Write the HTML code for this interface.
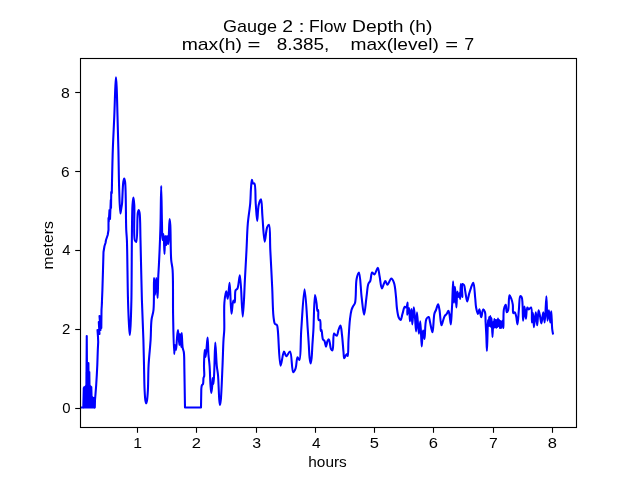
<!DOCTYPE html>
<html><head><meta charset="utf-8"><style>
html,body{margin:0;padding:0;background:#fff;width:640px;height:480px;overflow:hidden}
svg{display:block;position:absolute;left:0;top:0;will-change:transform}
text{font-family:"Liberation Sans",sans-serif;fill:#000}
</style></head><body>
<svg width="640" height="480" viewBox="0 0 640 480">
<path d="M83.3 408.4 L83.3 386.5 L91.8 386.5 L91.8 397 L95 397 L95 408.4 Z M85.9 387 L85.9 372 L89.7 372 L89.7 387 Z" fill="#0000ff"/>
<path d="M81 407.5 L83.3 407.5 L83.8 388 L84.3 407 L84.8 387 L85.3 406 L85.8 386 L86.3 405 L86.75 336 L87.2 400 L87.7 370 L88.2 395 L88.4 363 L88.9 400 L89.3 372 L89.8 405 L90.3 386 L90.8 405 L91.3 387 L91.8 406 L92.3 397 L92.8 407 L93.3 398 L93.8 407 L94.3 399 L94.8 407.5 L95 400 L95.5 394 L96.2 385 L96.8 375 L97.3 365 L97.8 350 L98.2 342 L98 337 L97.5 330 L99.5 334 L98.8 322 L100.5 330 L99.5 316 L101.3 328 L101.5 310 L102 302 L101.8 305 L102.4 290 L103 270 L103.5 252 L104 249 L104.5 246 L105.5 243 L106 240 L107.7 235 L108.5 230 L108.5 218 L108.75 221.7 L109.5 210 L110 219 L110.8 200 L111 208 L111.25 192 L111.8 193 C111.80 193.00 112.35 163.49 112.8 150 C113.20 138.00 113.87 126.78 114.3 116 C114.69 106.21 114.94 95.15 115.3 88 C115.52 83.56 115.77 77.20 116 77.2 C116.23 77.20 116.49 83.56 116.7 88 C117.03 95.15 117.23 106.21 117.5 116 C117.80 126.78 118.13 138.21 118.4 150 C118.70 162.79 118.79 178.43 119.2 190 C119.52 198.87 119.81 213.47 120.4 213.5 C120.71 213.52 121.21 208.75 121.5 207 C121.70 205.81 121.83 205.47 122 204 C122.44 200.05 122.65 186.16 123.3 182 C123.56 180.31 123.90 178.50 124.2 178.5 C124.50 178.50 124.84 180.14 125.1 182 C126.04 188.78 125.80 219.97 126.25 230 C126.45 234.58 126.70 235.26 126.9 240 C127.38 251.59 127.54 284.31 128 300 C128.30 310.13 128.61 318.55 129 325 C129.25 329.09 129.53 335.00 129.8 335 C130.07 335.00 130.37 329.09 130.6 325 C130.96 318.55 131.16 311.02 131.4 300 C131.87 278.53 131.59 218.88 132.5 205 C132.76 201.09 133.10 197.50 133.4 197.5 C133.70 197.50 134.07 201.57 134.3 205 C134.79 212.38 133.33 235.57 134.8 240 C135.19 241.18 135.84 242.12 136.25 242 C137.65 241.59 136.98 217.68 137.8 213 C138.07 211.46 138.40 210.00 138.7 210 C139.00 210.00 139.35 211.48 139.6 213 C140.33 217.48 140.19 229.23 140.5 240 C140.95 256.06 141.35 282.02 141.9 300 C142.35 314.68 143.04 328.23 143.4 340 C143.69 349.31 143.80 356.67 144 365 C144.20 373.33 144.27 383.45 144.6 390 C144.81 394.25 144.98 398.13 145.4 400.5 C145.62 401.75 145.93 403.30 146.2 403.3 C146.47 403.30 146.77 401.75 147 400.5 C147.44 398.13 147.66 394.25 147.9 390 C148.27 383.45 148.15 373.33 148.6 365 C149.05 356.66 150.11 347.87 150.6 340 C151.04 332.97 150.83 325.50 151.5 320 C151.98 316.07 153.04 314.30 153.5 310 C154.32 302.38 153.67 278.01 154 278 C154.24 277.99 154.62 295.00 155 295 C155.38 295.00 155.88 278.00 156.3 278 C156.75 278.00 157.28 298.01 157.6 298 C157.92 297.99 157.95 283.95 158.2 278 C158.40 273.20 158.67 269.49 158.9 265 C159.14 260.18 159.37 255.64 159.6 250 C159.90 242.73 160.25 234.26 160.5 225 C160.81 213.44 160.95 186.00 161.2 186 C161.45 186.00 161.73 215.05 162 225 C162.17 231.17 162.12 239.97 162.5 240 C162.74 240.02 163.22 233.98 163.5 234 C164.01 234.03 164.21 254.00 164.5 254 C164.77 254.00 164.80 236.02 165.2 236 C165.48 235.99 166.00 245.01 166.3 245 C166.60 244.99 166.67 236.01 167 236 C167.31 235.99 167.90 244.01 168.2 244 C168.50 243.99 168.61 239.16 168.8 236 C169.08 231.39 169.26 219.01 169.6 219 C169.81 218.99 170.10 222.16 170.3 225 C170.78 231.83 170.53 251.89 171.2 260 C171.56 264.36 172.26 265.45 172.6 270 C173.32 279.60 172.82 300.54 173.1 315 C173.36 328.47 173.71 353.99 174.2 354 C174.44 354.01 174.63 345.02 175 345 C175.28 344.98 175.71 350.02 176 350 C176.44 349.97 176.63 341.59 177 338 C177.31 335.06 177.66 329.99 178 330 C178.46 330.01 179.06 345.01 179.4 345 C179.69 344.99 179.71 334.01 180 334 C180.32 333.99 181.02 347.01 181.3 347 C181.59 346.99 181.47 333.00 181.7 333 C181.93 333.00 182.13 344.61 182.7 348 C183.00 349.78 183.53 350.26 183.8 352 C184.28 355.07 184.30 365.00 184.3 365 L185 407.5 L201 407.5 L201.3 389 C201.30 389.00 201.56 385.85 202 385 C202.26 384.50 202.75 384.54 203 384 C203.52 382.88 203.19 379.45 203.5 378 C203.68 377.14 204.05 376.94 204.2 376 C204.53 373.96 203.96 369.72 204 366 C204.06 361.29 204.37 350.01 204.7 350 C204.92 349.99 205.21 357.00 205.5 357 C205.81 357.00 206.18 351.91 206.5 349 C206.88 345.52 207.29 337.49 207.6 337.5 C207.98 337.51 208.11 349.84 208.5 355 C208.81 359.09 209.29 361.83 209.6 366 C210.00 371.47 210.13 380.02 210.5 385 C210.74 388.24 211.00 393.00 211.3 393 C211.60 393.00 212.05 387.58 212.3 385 C212.54 382.59 212.59 378.00 212.8 378 C213.00 378.00 213.29 384.01 213.5 384 C213.82 383.99 214.05 375.45 214.3 370 C214.66 362.37 214.86 342.51 215.3 342.5 C215.71 342.49 216.21 360.02 216.8 366 C217.17 369.71 217.65 371.24 218 375 C218.58 381.24 218.81 394.86 219.3 400 C219.52 402.31 219.75 405.00 220 405 C220.25 405.00 220.55 402.42 220.8 400 C221.46 393.73 222.03 376.58 222.5 366 C222.91 356.75 223.12 346.63 223.5 340 C223.73 335.88 224.08 334.16 224.25 330 C224.53 323.11 223.80 309.63 224.4 302.5 C224.79 297.91 225.64 291.26 226.25 291.25 C226.75 291.24 227.28 298.77 227.75 298.75 C228.43 298.72 229.05 282.79 229.6 282.8 C230.36 282.82 230.66 313.72 231.5 313.75 C232.05 313.77 232.48 300.81 233.4 300.6 C233.78 300.51 234.36 302.59 234.7 302.5 C235.49 302.29 234.58 292.52 235.6 290.3 C236.08 289.26 236.95 289.44 237.5 288.4 C238.72 286.07 239.19 275.26 239.9 275.3 C241.14 275.37 241.89 316.60 242.75 316.6 C243.58 316.60 244.34 289.84 245 278 C245.56 267.92 246.03 259.18 246.5 250 C246.96 241.11 247.11 231.98 247.8 223.75 C248.41 216.42 249.72 209.37 250.25 203 C250.70 197.60 250.66 192.26 251 188 C251.25 184.82 251.46 179.74 251.9 179.7 C252.20 179.67 252.38 182.94 253 183.4 C253.37 183.68 254.01 183.03 254.4 183.4 C255.87 184.78 255.22 196.61 255.7 203 C256.16 209.13 256.68 221.00 257.2 221 C257.69 221.00 257.74 208.91 258.7 205 C259.29 202.60 260.42 199.31 261 199.4 C261.97 199.55 261.87 209.87 262.4 216 C263.06 223.61 263.76 241.56 264.7 241.6 C265.40 241.63 265.96 230.33 267.1 227.5 C267.65 226.12 268.49 224.56 269 224.7 C270.39 225.09 269.83 240.74 270.3 250 C270.88 261.27 271.64 275.79 272.2 287.5 C272.69 297.81 272.70 310.12 273.5 316.6 C273.91 319.90 274.05 322.73 275 324 C275.51 324.67 276.44 324.37 276.9 325 C277.61 325.97 277.49 327.56 277.8 330 C278.63 336.46 279.15 365.48 280.6 365.6 C281.52 365.67 282.79 351.73 284 351.6 C284.72 351.52 285.30 356.14 286.25 356.25 C287.27 356.37 288.99 351.33 290 351.6 C291.89 352.11 291.69 371.89 293.2 372.2 C293.90 372.35 294.96 370.08 295.6 368.4 C296.63 365.72 296.53 357.41 297.5 357.2 C298.03 357.08 298.87 360.14 299.4 360 C300.97 359.57 300.48 340.75 301.25 330 C302.15 317.48 303.51 289.40 304.6 289.4 C305.69 289.40 307.06 319.77 307.8 330 C308.25 336.22 308.49 340.18 308.8 345 C309.09 349.49 309.19 354.59 309.6 358 C309.87 360.23 310.27 363.50 310.6 363.5 C310.93 363.50 311.33 360.23 311.6 358 C312.01 354.59 312.11 349.49 312.4 345 C312.71 340.18 313.06 336.05 313.4 330 C313.92 320.77 314.13 295.06 315 295 C315.42 294.97 316.08 300.33 316.5 303 C316.92 305.66 316.97 310.87 317.5 311 C317.70 311.05 318.02 309.95 318.2 310 C318.73 310.16 317.66 319.09 318.6 320 C318.95 320.34 319.63 319.66 320 320 C321.04 320.96 320.21 330.84 320.8 331 C321.00 331.05 321.30 329.95 321.5 330 C321.94 330.11 322.01 334.27 322.3 336 C322.52 337.33 322.53 338.63 323 339.5 C323.36 340.17 324.08 340.26 324.5 341 C325.21 342.23 325.50 346.70 326 346.7 C326.50 346.70 326.83 342.27 327.5 341 C327.90 340.24 328.52 339.31 328.9 339.4 C329.46 339.54 329.66 342.43 330 344 C330.36 345.63 330.38 347.93 331 349 C331.39 349.67 332.08 350.47 332.5 350.3 C333.71 349.81 332.83 333.93 334 333.5 C334.42 333.35 334.98 334.62 335.5 335 C335.95 335.32 336.50 335.88 336.9 335.7 C337.68 335.35 337.86 331.77 338.5 330 C339.08 328.39 339.96 325.43 340.5 325.5 C341.25 325.60 341.55 331.37 342 335 C342.59 339.84 343.07 347.71 343.5 352 C343.76 354.61 343.70 358.20 344.2 358.3 C344.52 358.37 345.03 356.73 345.5 356 C345.96 355.29 346.61 353.95 347 354 C347.36 354.05 347.58 356.04 347.8 356 C348.39 355.90 348.17 345.69 348.5 340 C348.88 333.47 349.34 324.53 350 319 C350.43 315.36 350.86 312.26 351.5 310 C351.91 308.57 352.34 307.73 352.9 306.6 C353.50 305.40 354.44 304.83 355 303 C356.34 298.61 355.44 284.42 356.6 279 C357.22 276.09 358.32 272.42 359 272.5 C360.28 272.66 360.68 289.41 361.6 296.9 C362.39 303.31 363.28 314.70 364.1 314.7 C364.92 314.70 365.73 302.38 366.5 296.9 C367.16 292.18 367.37 286.43 368.4 283.75 C368.92 282.41 369.72 282.23 370.25 281 C371.10 279.00 371.05 272.86 372.1 272.5 C372.72 272.29 373.66 274.56 374.4 274.4 C375.57 274.16 376.90 267.69 377.75 267.8 C378.67 267.92 378.97 273.17 379.6 276.25 C380.35 279.93 380.80 288.27 381.9 288.4 C382.79 288.51 384.19 281.06 385.25 281 C386.03 280.95 386.66 284.70 387.5 284.7 C388.59 284.70 390.09 278.51 391.25 278.5 C392.23 278.49 393.28 280.85 394 282.8 C395.21 286.06 395.51 292.47 396 296.9 C396.44 300.81 396.41 304.46 396.9 308 C397.35 311.30 397.83 315.42 398.75 317.5 C399.27 318.68 400.06 320.09 400.6 320 C401.39 319.86 401.82 315.89 402.5 313.75 C403.22 311.47 403.85 307.08 404.8 306.7 C405.26 306.52 405.88 307.68 406.3 307.5 C407.03 307.19 407.46 302.46 407.7 302.5 C408.07 302.56 406.82 314.64 407.2 314.7 C407.49 314.74 408.55 307.96 409 308 C409.62 308.06 409.59 321.24 410 321.25 C410.40 321.26 411.03 308.99 411.4 309 C411.82 309.01 411.92 324.40 412.3 324.4 C412.70 324.41 413.24 307.21 413.75 307.2 C414.15 307.19 414.62 314.20 415 318 C415.42 322.22 415.79 331.41 416.1 331.4 C416.47 331.39 416.56 312.31 417 312.3 C417.47 312.29 418.28 333.74 418.9 333.75 C419.37 333.76 419.89 321.24 420.3 321.25 C420.88 321.27 421.28 346.40 421.7 346.4 C421.99 346.40 422.17 337.91 422.5 335 C422.71 333.19 422.93 330.60 423.2 330.6 C423.57 330.60 424.08 339.01 424.5 339 C425.15 338.98 424.76 321.95 426.4 318.9 C427.03 317.72 428.17 316.81 428.75 317 C429.51 317.25 429.52 320.03 430 322 C430.69 324.82 431.82 332.35 432.5 332.3 C433.40 332.24 433.42 317.54 434.4 313.75 C434.86 311.98 435.45 311.38 436 310 C436.67 308.33 437.51 304.37 438.1 304.4 C438.68 304.43 439.06 307.66 439.5 310 C440.21 313.83 440.58 325.20 441.4 325.3 C441.82 325.35 442.31 322.97 442.8 321.6 C443.40 319.93 443.89 317.34 444.7 316 C445.25 315.09 446.02 314.79 446.6 314 C447.27 313.09 447.93 310.75 448.4 310.8 C448.85 310.85 449.09 312.61 449.4 314 C449.95 316.46 450.42 324.41 450.8 324.4 C451.21 324.39 451.45 315.90 451.7 312.2 C451.90 309.13 452.03 307.24 452.2 303.75 C452.48 298.05 452.80 281.25 453.1 281.25 C453.40 281.25 453.65 302.80 454 302.8 C454.30 302.80 454.63 286.90 455 286.9 C455.42 286.90 456.00 307.50 456.4 307.5 C456.75 307.50 456.76 291.64 457.3 291.6 C457.62 291.57 458.13 297.00 458.5 297 C458.82 297.00 459.14 292.99 459.4 293 C459.72 293.01 459.99 299.01 460.2 299 C460.53 298.98 460.43 284.01 460.8 284 C461.15 283.99 462.02 297.01 462.3 297 C462.58 296.99 461.50 284.52 462.5 284 C462.87 283.81 463.59 284.39 464 285 C464.78 286.17 464.83 289.18 465.3 291.6 C465.88 294.54 466.53 301.38 467.2 301.4 C467.77 301.42 468.36 296.69 469 294.4 C469.63 292.16 470.24 289.84 471 287.8 C471.69 285.97 472.68 282.61 473.3 282.7 C474.33 282.86 474.71 293.50 475.2 298 C475.59 301.54 475.55 304.66 476.1 307.5 C476.56 309.90 477.41 314.00 478 314 C478.50 314.00 478.93 309.38 479.4 309.4 C480.01 309.42 480.63 317.30 481.25 317.3 C481.87 317.30 482.26 309.56 483.1 309.4 C483.64 309.30 484.56 310.90 485 312.2 C485.75 314.41 485.40 318.50 485.6 322 C485.83 326.03 486.09 330.44 486.3 335 C486.53 340.06 486.70 351.00 486.9 351 C487.10 351.00 487.31 340.25 487.5 335 C487.68 329.92 487.74 320.01 488 320 C488.16 319.99 488.42 326.00 488.6 326 C488.82 326.00 489.00 317.00 489.2 317 C489.40 317.00 489.60 326.00 489.8 326 C490.01 326.00 490.20 316.00 490.4 316 C490.60 316.00 490.79 327.00 491 327 C491.19 327.00 491.40 318.00 491.6 318 C491.89 318.00 492.22 337.00 492.5 337 C492.75 337.00 492.92 322.01 493.2 322 C493.38 322.00 493.62 328.00 493.8 328 C494.02 328.00 494.19 319.00 494.4 319 C494.59 319.00 494.79 327.00 495 327 C495.19 327.00 495.41 320.00 495.6 320 C495.81 320.00 496.00 328.00 496.2 328 C496.40 328.00 496.59 320.00 496.8 320 C496.99 320.00 497.21 327.00 497.4 327 C497.61 327.00 497.79 318.50 498 318.5 C498.19 318.50 498.39 326.00 498.6 326 C498.79 326.00 499.01 320.00 499.2 320 C499.42 320.00 499.57 328.00 499.8 328 C500.01 328.00 500.28 321.00 500.5 321 C500.72 321.00 500.78 327.98 501.1 328 C501.43 328.02 502.12 320.59 502.5 320.6 C502.88 320.61 503.18 328.01 503.4 328 C503.75 327.98 503.05 313.50 503.9 309.4 C504.35 307.26 505.34 304.64 505.8 304.7 C506.36 304.77 506.06 312.03 506.7 312.2 C507.06 312.29 507.71 311.31 508.1 310.3 C509.08 307.74 508.55 295.48 509.5 295.3 C510.00 295.20 510.88 297.60 511.4 299 C512.02 300.66 512.48 302.60 512.8 304.7 C513.18 307.21 512.52 312.70 513.3 313.1 C513.65 313.28 514.30 312.07 514.7 312.2 C515.33 312.41 515.69 314.46 516.1 316 C516.69 318.23 517.08 324.42 517.5 324.4 C518.05 324.38 518.42 314.23 518.9 309.4 C519.35 304.87 519.22 296.75 520.3 296.25 C520.69 296.07 521.31 296.51 521.7 297.2 C523.17 299.78 522.56 320.59 523.1 320.6 C523.52 320.61 524.02 306.60 524.5 306.6 C524.95 306.60 525.42 318.75 525.9 318.75 C526.36 318.75 526.43 307.73 527.3 307.5 C527.70 307.39 528.17 309.33 528.75 309.4 C529.41 309.48 530.52 307.24 531.1 307.5 C532.40 308.07 531.63 322.49 532 322.5 C532.29 322.51 532.71 312.99 533 313 C533.36 313.01 533.45 327.19 533.9 327.2 C534.37 327.21 535.24 312.19 535.8 312.2 C536.33 312.21 536.75 325.30 537.2 325.3 C537.68 325.30 537.96 310.35 538.6 310.3 C539.00 310.27 539.56 313.97 540 316 C540.50 318.30 540.91 323.40 541.4 323.4 C542.00 323.39 542.74 312.19 543.3 312.2 C543.83 312.21 544.28 322.51 544.7 322.5 C545.37 322.48 545.93 296.25 546.4 296.25 C546.85 296.25 546.92 320.57 547.5 320.6 C547.88 320.62 548.45 310.30 548.9 310.3 C549.39 310.31 549.90 322.51 550.3 322.5 C550.68 322.49 550.96 311.25 551.25 311.25 C551.61 311.26 551.78 325.07 552.2 329 C552.41 330.97 552.90 333.40 552.9 333.4" fill="none" stroke="#0000ff" stroke-width="2.08" stroke-linejoin="round" stroke-linecap="square"/>
<rect x="80.5" y="58.5" width="496" height="369" fill="none" stroke="#000" stroke-width="1.11"/>
<g stroke="#000" stroke-width="1.11"><line x1="137.5" y1="427" x2="137.5" y2="432.8"/><line x1="196.5" y1="427" x2="196.5" y2="432.8"/><line x1="256.5" y1="427" x2="256.5" y2="432.8"/><line x1="315.5" y1="427" x2="315.5" y2="432.8"/><line x1="374.5" y1="427" x2="374.5" y2="432.8"/><line x1="433.5" y1="427" x2="433.5" y2="432.8"/><line x1="493.5" y1="427" x2="493.5" y2="432.8"/><line x1="552.5" y1="427" x2="552.5" y2="432.8"/><line x1="75.2" y1="408.5" x2="80" y2="408.5"/><line x1="75.2" y1="329.5" x2="80" y2="329.5"/><line x1="75.2" y1="250.5" x2="80" y2="250.5"/><line x1="75.2" y1="171.5" x2="80" y2="171.5"/><line x1="75.2" y1="92.5" x2="80" y2="92.5"/></g>
<text x="222.95" y="31.8" font-size="17.0" textLength="54.14" lengthAdjust="spacingAndGlyphs">Gauge</text>
<text x="282.25" y="31.8" font-size="17.0" textLength="10.75" lengthAdjust="spacingAndGlyphs">2</text>
<text x="298.46" y="31.8" font-size="17.0" textLength="6.15" lengthAdjust="spacingAndGlyphs">:</text>
<text x="309.05" y="31.8" font-size="17.0" textLength="37.10" lengthAdjust="spacingAndGlyphs">Flow</text>
<text x="352.05" y="31.8" font-size="17.0" textLength="51.42" lengthAdjust="spacingAndGlyphs">Depth</text>
<text x="408.87" y="31.8" font-size="17.0" textLength="23.55" lengthAdjust="spacingAndGlyphs">(h)</text>
<text x="181.68" y="49.7" font-size="17.0" textLength="60.24" lengthAdjust="spacingAndGlyphs">max(h)</text>
<text x="247.41" y="49.7" font-size="17.0" textLength="12.92" lengthAdjust="spacingAndGlyphs">=</text>
<text x="276.67" y="49.7" font-size="17.0" textLength="52.52" lengthAdjust="spacingAndGlyphs">8.385,</text>
<text x="350.49" y="49.7" font-size="17.0" textLength="88.31" lengthAdjust="spacingAndGlyphs">max(level)</text>
<text x="445.28" y="49.7" font-size="17.0" textLength="12.83" lengthAdjust="spacingAndGlyphs">=</text>
<text x="464.22" y="49.7" font-size="17.0" textLength="9.90" lengthAdjust="spacingAndGlyphs">7</text>
<text x="308.32" y="466.9" font-size="14.3" textLength="38.48" lengthAdjust="spacingAndGlyphs">hours</text>
<text x="133.15" y="447.9" font-size="14.3" textLength="8.72" lengthAdjust="spacingAndGlyphs">1</text>
<text x="191.88" y="447.9" font-size="14.3" textLength="9.18" lengthAdjust="spacingAndGlyphs">2</text>
<text x="252.19" y="447.9" font-size="14.3" textLength="8.84" lengthAdjust="spacingAndGlyphs">3</text>
<text x="312.13" y="447.9" font-size="14.3" textLength="8.61" lengthAdjust="spacingAndGlyphs">4</text>
<text x="369.88" y="447.9" font-size="14.3" textLength="9.18" lengthAdjust="spacingAndGlyphs">5</text>
<text x="428.88" y="447.9" font-size="14.3" textLength="9.18" lengthAdjust="spacingAndGlyphs">6</text>
<text x="488.93" y="447.9" font-size="14.3" textLength="8.75" lengthAdjust="spacingAndGlyphs">7</text>
<text x="547.88" y="447.9" font-size="14.3" textLength="9.18" lengthAdjust="spacingAndGlyphs">8</text>
<text x="60.97" y="97.6" font-size="14.3" textLength="8.81" lengthAdjust="spacingAndGlyphs">8</text>
<text x="60.99" y="176.7" font-size="14.3" textLength="8.56" lengthAdjust="spacingAndGlyphs">6</text>
<text x="62.24" y="254.9" font-size="14.3" textLength="8.23" lengthAdjust="spacingAndGlyphs">4</text>
<text x="61.92" y="333.9" font-size="14.3" textLength="8.32" lengthAdjust="spacingAndGlyphs">2</text>
<text x="62.18" y="412.7" font-size="14.3" textLength="8.29" lengthAdjust="spacingAndGlyphs">0</text>
<text transform="translate(53.2,269.40) rotate(-90)" x="0" y="0" font-size="14.3" textLength="48.20" lengthAdjust="spacingAndGlyphs">meters</text>
</svg>
</body></html>
